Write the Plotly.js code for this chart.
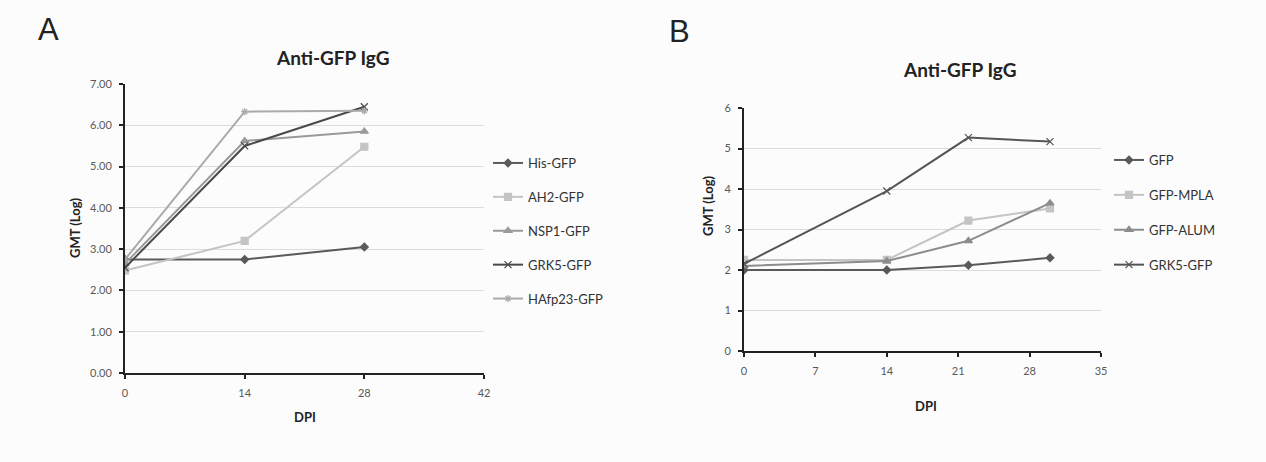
<!DOCTYPE html>
<html>
<head>
<meta charset="utf-8">
<script src="https://cdn.plot.ly/plotly-3.0.1.min.js"></script>
<style>html,body{margin:0;padding:0;background:#fcfcfc;}#chart{width:1266px;height:462px;}</style>
</head>
<body>
<div id="chart"></div>
<script>
// Panel A data
const daysA = [0, 14, 28];
const hisGFP = [2.75, 2.75, 3.05];
const ah2GFP = [2.48, 3.2, 5.48];
const nsp1GFP = [2.65, 5.62, 5.85];
const grk5GFP_A = [2.55, 5.5, 6.45];
const hafp23GFP = [2.75, 6.33, 6.35];
const seriesNamesA = ["His-GFP", "AH2-GFP", "NSP1-GFP", "GRK5-GFP", "HAfp23-GFP"];

// Panel B data
const daysB = [0, 14, 22, 30];
const gfp = [2.0, 2.0, 2.12, 2.3];
const gfpMPLA = [2.25, 2.25, 3.22, 3.52];
const gfpALUM = [2.1, 2.22, 2.72, 3.65];
const grk5GFP_B = [2.15, 3.95, 5.27, 5.17];
const seriesNamesB = ["GFP", "GFP-MPLA", "GFP-ALUM", "GRK5-GFP"];

const FONT = "Lato, 'Open Sans', sans-serif";
const W = 1266, H = 462;
const px = v => v / W;
const py = v => (H - v) / H;

function tr(x, y, name, color, symbol, size, xa, ya, leg, i) {
  return {
    x: x, y: y, name: name, type: "scatter", mode: "lines+markers",
    line: {color: color, width: 2},
    marker: {color: color, symbol: symbol, size: size, line: {color: color, width: 1.2}},
    xaxis: xa, yaxis: ya, legend: leg, legendgroup: leg + i
  };
}

const data = [
  tr(daysA, hisGFP, seriesNamesA[0], "#5a5a5a", "diamond", 6, "x", "y", "legend", 0),
  tr(daysA, ah2GFP, seriesNamesA[1], "#c4c4c4", "square", 7, "x", "y", "legend", 1),
  tr(daysA, nsp1GFP, seriesNamesA[2], "#9a9a9a", "triangle-up", 7, "x", "y", "legend", 2),
  tr(daysA, grk5GFP_A, seriesNamesA[3], "#4a4a4a", "x-thin-open", 7, "x", "y", "legend", 3),
  tr(daysA, hafp23GFP, seriesNamesA[4], "#aaaaaa", "asterisk-open", 6, "x", "y", "legend", 4),
  tr(daysB, gfp, seriesNamesB[0], "#5a5a5a", "diamond", 6, "x2", "y2", "legend2", 0),
  tr(daysB, gfpMPLA, seriesNamesB[1], "#c4c4c4", "square", 7, "x2", "y2", "legend2", 1),
  tr(daysB, gfpALUM, seriesNamesB[2], "#8c8c8c", "triangle-up", 7, "x2", "y2", "legend2", 2),
  tr(daysB, grk5GFP_B, seriesNamesB[3], "#555555", "x-thin-open", 7, "x2", "y2", "legend2", 3)
];

function ax(extra) {
  return Object.assign({
    showline: true, linecolor: "#222", linewidth: 2,
    ticks: "outside", ticklen: 4, tickcolor: "#222", tickwidth: 2,
    tickfont: {family: FONT, size: 11, color: "#595959"},
    ticklabelstandoff: 5,
    zeroline: false, fixedrange: true
  }, extra);
}

function ann(text, x, y, size, family, angle) {
  return {text: text, x: px(x), y: py(y), xref: "paper", yref: "paper", showarrow: false,
    xanchor: "center", yanchor: "middle", textangle: angle || 0,
    font: {family: family || FONT, size: size, color: "#222"}};
}

const layout = {
  width: W, height: H,
  paper_bgcolor: "#fcfcfc", plot_bgcolor: "#fcfcfc",
  margin: {l: 0, r: 0, t: 0, b: 0},
  font: {family: FONT, color: "#333"},
  showlegend: true,
  xaxis: ax({domain: [px(125), px(484)], range: [0, 42], tickvals: [0, 14, 28, 42], showgrid: false, anchor: "y"}),
  yaxis: ax({domain: [py(373), py(84)], range: [0, 7], dtick: 1, tickformat: ".2f", showgrid: true, gridcolor: "#dcdcdc", gridwidth: 1, anchor: "x"}),
  xaxis2: ax({domain: [px(744), px(1101)], range: [0, 35], dtick: 7, showgrid: false, anchor: "y2"}),
  yaxis2: ax({domain: [py(351), py(108)], range: [0, 6], dtick: 1, showgrid: true, gridcolor: "#dcdcdc", gridwidth: 1, anchor: "x2"}),
  legend: {x: px(488), y: py(148), xanchor: "left", yanchor: "top", bgcolor: "rgba(0,0,0,0)",
    font: {family: FONT, size: 13, color: "#333"}, tracegroupgap: 14, itemwidth: 30, traceorder: "grouped"},
  legend2: {x: px(1109), y: py(145), xanchor: "left", yanchor: "top", bgcolor: "rgba(0,0,0,0)",
    font: {family: FONT, size: 13, color: "#333"}, tracegroupgap: 15, itemwidth: 30, traceorder: "grouped"},
  annotations: [
    ann("A", 48, 29, 31, "Liberation Sans, Arial, sans-serif"),
    ann("B", 679, 32, 31, "Liberation Sans, Arial, sans-serif"),
    ann("<b>Anti-GFP IgG</b>", 332, 58, 19),
    ann("<b>Anti-GFP IgG</b>", 959, 70, 19),
    ann("<b>GMT (Log)</b>", 75, 228, 13, null, -90),
    ann("<b>GMT (Log)</b>", 708, 206, 13, null, -90),
    ann("<b>DPI</b>", 305, 417, 13),
    ann("<b>DPI</b>", 926, 406, 13)
  ]
};

Plotly.newPlot("chart", data, layout, {displayModeBar: false, staticPlot: true});
</script>
</body>
</html>
